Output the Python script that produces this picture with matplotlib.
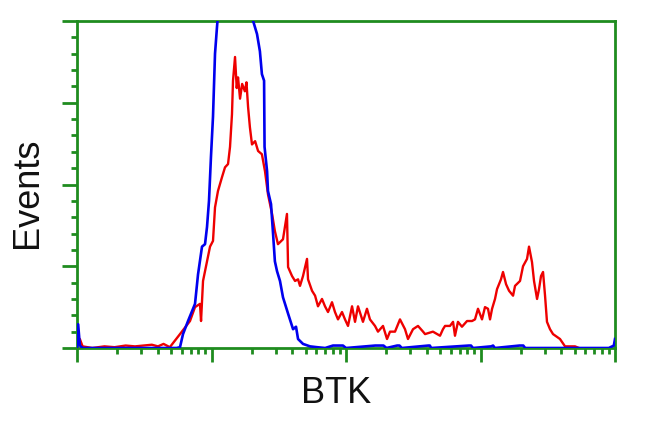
import matplotlib
matplotlib.use("Agg")
import matplotlib.pyplot as plt
from matplotlib.ticker import MultipleLocator, LogLocator, NullFormatter

blue_x = [1.0, 1.02, 1.05, 1.1, 2.0, 3.0, 4.0, 5.5, 5.83, 6.14, 6.69, 7.54, 7.94, 8.5, 8.95,
          9.26, 9.58, 9.91, 10.26, 10.62, 10.99, 11.6, 13, 15, 17, 19, 20.4, 21.8, 22.9,
          23.7, 24.6, 24.8, 25.9, 26.3, 27.7, 28.6, 29.6, 30.7, 32.3, 34.0, 37.1, 40.4,
          42.5, 44.0, 47.9, 54, 60.8, 70, 80, 85, 95, 100, 165, 175, 190, 200, 240, 250, 260,
          410, 420, 430, 820, 850, 880, 1200, 1240, 1280, 1950, 2000, 2080, 2150, 9000, 9800, 10000]
blue_y = [0, 29, 3, 0, 0, 0, 0, 0, 1, 17, 33, 54, 90, 124, 127,
          148, 180, 234, 283, 360, 393, 440, 470, 485, 475, 440, 400, 384, 363,
          335, 327, 246, 216, 192, 176, 143, 106, 94, 82, 62, 42, 23,
          26, 11, 5, 2, 1, 0, 3, 3, 3, 0, 3, 3, 3, 0, 3, 3, 0,
          3, 3, 0, 3, 3, 0, 2, 3, 0, 3, 3, 3, 0, 0, 3, 11]

red_x = [1.0, 1.05, 1.1, 1.3, 1.6, 1.9, 2.3, 2.7, 3.1, 3.6, 4.0, 4.4, 4.9, 5.35, 5.83,
         6.92, 7.54, 8.21, 8.36, 8.65, 9.26, 9.75, 10.26, 10.62, 11.17, 11.97, 12.6, 13.27,
         13.73, 14.2, 14.45, 14.96, 15.4, 15.75, 16.3, 16.9, 17.7, 18.2, 18.7, 19.3, 20.0,
         21.1, 22.2, 23.7, 25.0, 26.3, 28.2, 29.6, 31.2, 34.0, 36.4, 37.1, 39.7, 41.8,
         44.0, 45.5, 47.9, 51.3, 52.2, 55.9, 58.9, 61.9, 66.3, 69.8, 73.5, 78.7, 82.8,
         87.2, 93.4, 98.3, 103.5, 110.9, 116.7, 122.8, 133.7, 143.2, 150.7, 164.3, 172.9,
         188.4, 201.8, 212.4, 231.4, 252, 274.6, 289, 315, 343, 374, 387, 443, 500, 526,
         545, 593, 625, 646, 680, 728, 794, 865, 910, 958, 1026, 1080, 1137, 1177, 1219,
         1282, 1327, 1420, 1470, 1549, 1630, 1746, 1806, 1967, 2071, 2218, 2295, 2415,
         2500, 2633, 2723, 2818, 2917, 3019, 3121, 3287, 3461, 3900, 4250, 5045, 5400]
red_y = [0, 11, 2, 0, 2, 1, 3, 2, 3, 4, 2, 5, 1, 9, 17,
         33, 50, 54, 33, 82, 106, 124, 131, 172, 192, 209, 221, 225,
         246, 286, 327, 356, 318, 331, 305, 323, 314, 325, 295, 270, 249,
         253, 241, 237, 216, 188, 164, 143, 127, 133, 164, 99, 88, 82,
         84, 76, 88, 109, 84, 70, 64, 51, 60, 51, 44, 56, 44,
         35, 44, 35, 27, 51, 32, 51, 32, 48, 35, 27, 20,
         27, 11, 20, 20, 35, 23, 11, 23, 27, 20, 17, 20, 15, 23,
         27, 27, 32, 15, 32, 26, 33, 33, 35, 48, 35, 50, 48, 35, 48,
         60, 72, 84, 93, 78, 70, 64, 76, 82, 100, 109, 124, 105,
         82, 60, 72, 88, 93, 64, 32, 23, 17, 11, 2, 2, 0]

green = "#1f8c1f"

fig = plt.figure(figsize=(6.5, 4.31), dpi=100)
ax = fig.add_axes([77 / 650, 1 - 349 / 431, (615 - 77) / 650, (349 - 22) / 431])

ax.plot(blue_x, blue_y, color="#0000ee", lw=1.9, zorder=3)
ax.plot(red_x, red_y, color="#ee0000", lw=1.7, zorder=2)

ax.set_xscale("log")
ax.set_xlim(1, 10000)
ax.set_ylim(0, 400)

ax.xaxis.set_major_locator(LogLocator(base=10, numticks=10))
ax.xaxis.set_minor_locator(LogLocator(base=10, subs=range(2, 10), numticks=50))
ax.xaxis.set_major_formatter(NullFormatter())
ax.xaxis.set_minor_formatter(NullFormatter())
ax.yaxis.set_major_locator(MultipleLocator(100))
ax.yaxis.set_minor_locator(MultipleLocator(20))
ax.yaxis.set_major_formatter(NullFormatter())

for s in ax.spines.values():
    s.set_color(green)
    s.set_linewidth(2)

ax.tick_params(axis="both", which="major", direction="out", color=green, length=10, width=2)
ax.tick_params(axis="both", which="minor", direction="out", color=green, length=4, width=2)
ax.tick_params(axis="y", which="major", length=11)

fig.text(336 / 650, 1 - 394 / 431, "BTK", ha="center", va="center",
         fontsize=26, family=["Liberation Sans", "DejaVu Sans"], color="#111111")
fig.text(28 / 650, 1 - 193 / 431, "Events", ha="center", va="center", rotation=90,
         fontsize=26, family=["Liberation Sans", "DejaVu Sans"], color="#111111")

fig.savefig("out.png", dpi=100, facecolor="white")
